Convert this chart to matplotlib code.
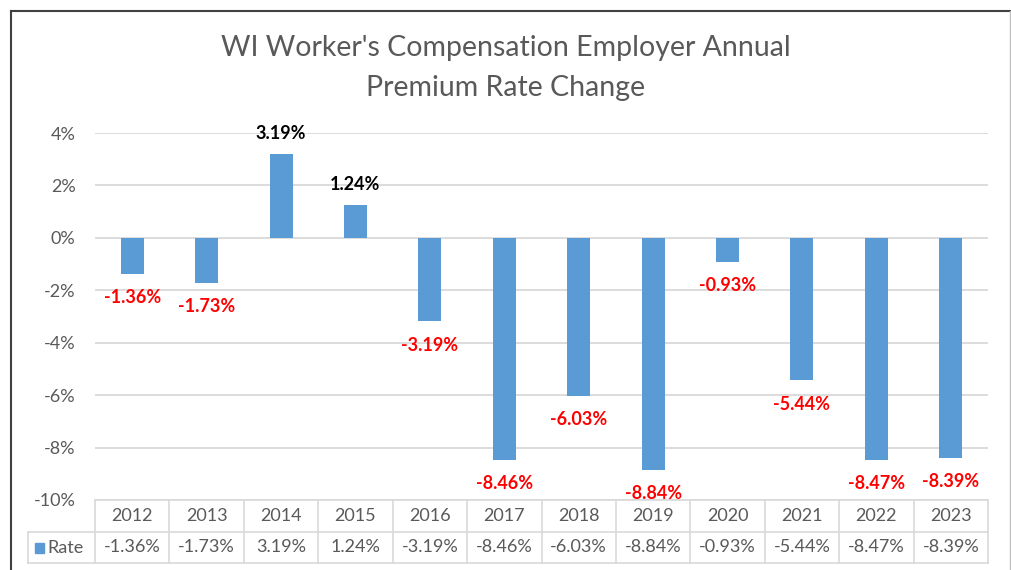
import matplotlib.pyplot as plt
import matplotlib.transforms as mtransforms
from matplotlib.patches import Rectangle

plt.rcParams['font.family'] = ['Lato', 'DejaVu Sans']

# Data
years = ['2012', '2013', '2014', '2015', '2016', '2017',
         '2018', '2019', '2020', '2021', '2022', '2023']
rates = [-1.36, -1.73, 3.19, 1.24, -3.19, -8.46,
         -6.03, -8.84, -0.93, -5.44, -8.47, -8.39]
yticks = [4, 2, 0, -2, -4, -6, -8, -10]

bar_color = '#5B9BD5'
grid_color = '#D9D9D9'
text_gray = '#595959'

fig = plt.figure(figsize=(10.12, 5.70), dpi=100)
W, H = 1012, 570
ax = fig.add_axes([95 / W, 1 - 500 / H, (988 - 95) / W, (500 - 133) / H])

x = list(range(len(years)))
ax.bar(x, rates, width=0.31, color=bar_color, zorder=3)
ax.set_xlim(-0.5, len(years) - 0.5)
ax.set_ylim(-10, 4)
ax.set_yticks(yticks)
ax.set_yticklabels([f'{t}%' for t in yticks], color=text_gray, fontsize=13)
ax.tick_params(axis='y', length=0, pad=14)
ax.set_xticks([])
for sp in ax.spines.values():
    sp.set_visible(False)
ax.yaxis.grid(True, color=grid_color, linewidth=1.3, zorder=0)

# value labels
for xi, r in zip(x, rates):
    if r < 0:
        ax.annotate(f'{r:.2f}%', (xi, r), xytext=(0, -17), textcoords='offset points',
                    ha='center', va='center', color='#FF0000', fontsize=13,
                    fontweight='bold', annotation_clip=False)
    else:
        ax.annotate(f'{r:.2f}%', (xi, r), xytext=(0, 15), textcoords='offset points',
                    ha='center', va='center', color='black', fontsize=13,
                    fontweight='bold', annotation_clip=False)

# title
fig.text(0.5, 1 - 48 / H, "WI Worker's Compensation Employer Annual", ha='center',
         va='center', fontsize=20.5, color=text_gray)
fig.text(0.5, 1 - 88 / H, 'Premium Rate Change', ha='center',
         va='center', fontsize=20.5, color=text_gray)

# data table under the axis
trans = mtransforms.blended_transform_factory(ax.transData, ax.transAxes)
row_h = 31.5 / (500 - 133)
y_top = 0
y_mid = -row_h
y_bot = -2 * row_h
x_lab = -0.5 - 67 / ((988 - 95) / len(years))
lw = 1.2
# horizontal lines
ax.plot([-0.5, 11.5], [y_top, y_top], color=grid_color, lw=lw, transform=trans, clip_on=False)
ax.plot([x_lab, 11.5], [y_mid, y_mid], color=grid_color, lw=lw, transform=trans, clip_on=False)
ax.plot([x_lab, 11.5], [y_bot, y_bot], color=grid_color, lw=lw, transform=trans, clip_on=False)
ax.plot([x_lab, x_lab], [y_mid, y_bot], color=grid_color, lw=lw, transform=trans, clip_on=False)
for i in range(len(years) + 1):
    ax.plot([i - 0.5, i - 0.5], [y_top, y_bot], color=grid_color, lw=lw,
            transform=trans, clip_on=False)
for xi, yr, r in zip(x, years, rates):
    ax.text(xi, (y_top + y_mid) / 2, yr, ha='center', va='center', fontsize=13,
            color=text_gray, transform=trans)
    ax.text(xi, (y_mid + y_bot) / 2, f'{r:.2f}%', ha='center', va='center',
            fontsize=13, color=text_gray, transform=trans)
ax.add_patch(Rectangle((35 / W, 1 - 553 / H), 9 / W, 10 / H, color=bar_color,
                       transform=fig.transFigure, clip_on=False))
fig.text(47 / W, 1 - 548 / H, 'Rate', ha='left', va='center', fontsize=13, color=text_gray)

# outer frame
fig.add_artist(plt.Line2D([11 / W, 11 / W], [0, 1 - 11 / H], color='#404040', lw=1.5))
fig.add_artist(plt.Line2D([11 / W, 1010 / W], [1 - 11 / H, 1 - 11 / H], color='#404040', lw=1.5))
fig.add_artist(plt.Line2D([1010 / W, 1010 / W], [0, 1 - 11 / H], color='#BFBFBF', lw=1))

fig.savefig('out.png', dpi=100)
